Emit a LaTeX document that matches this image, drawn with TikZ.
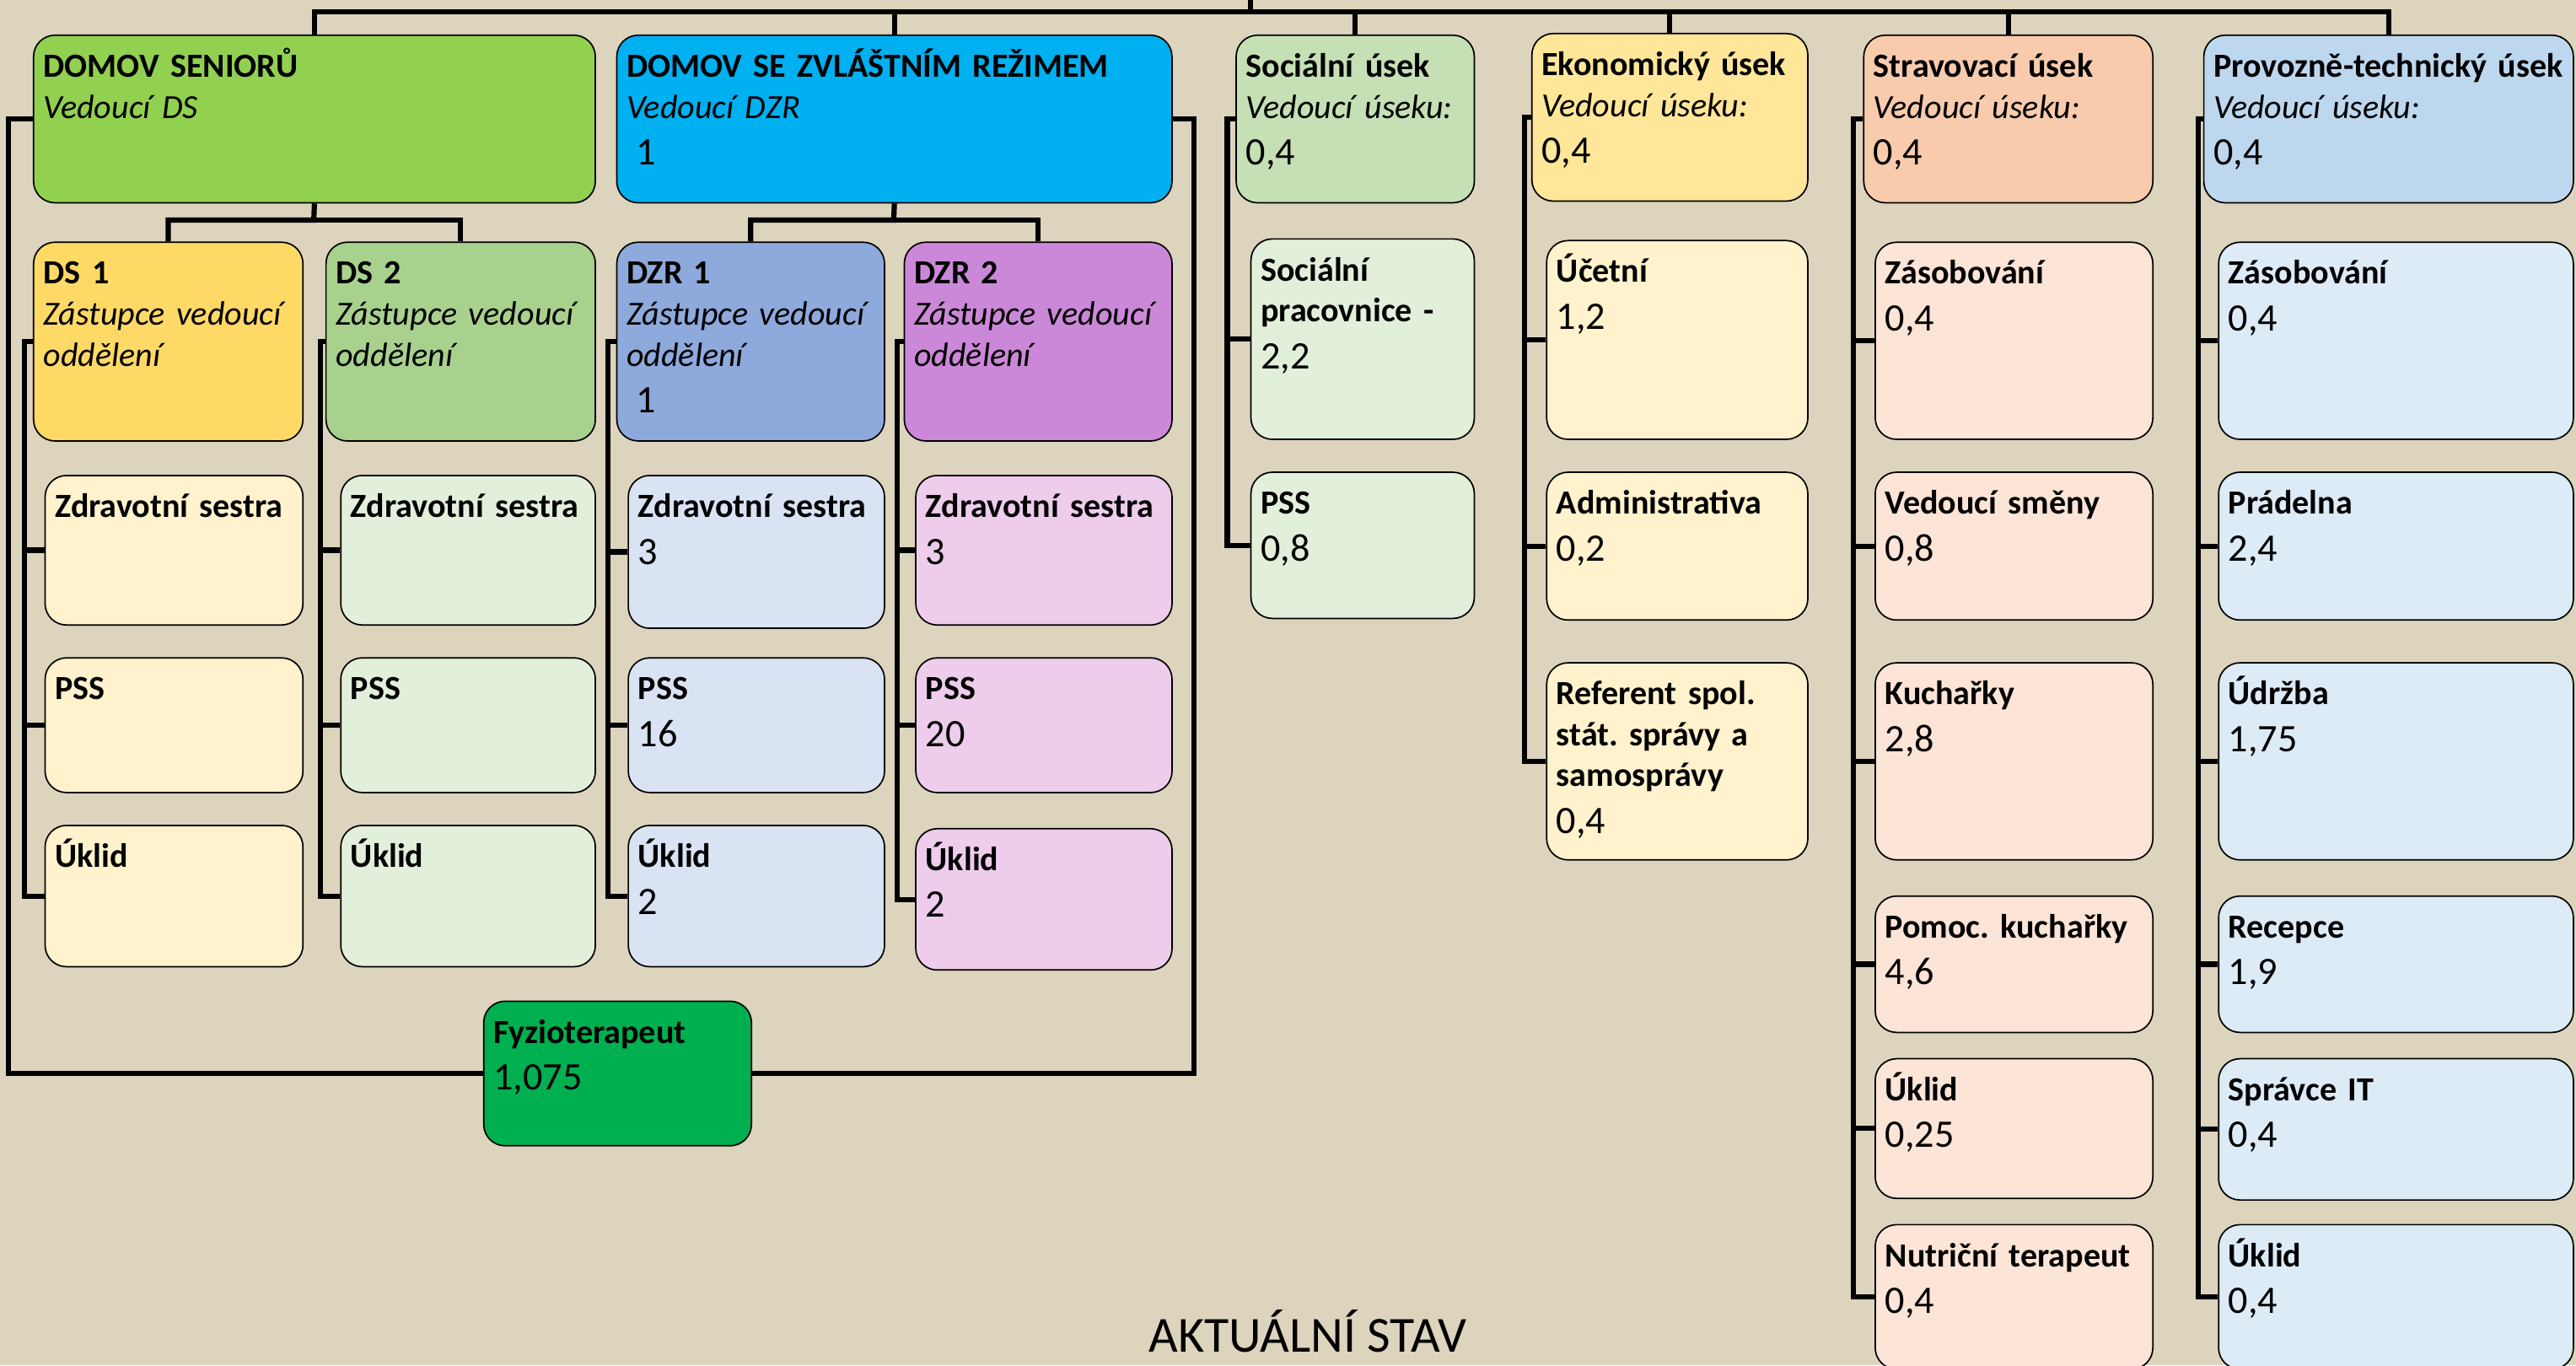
\documentclass[tikz,border=0pt]{standalone}
\usepackage{fontspec}
\setmainfont{Carlito}
\usepackage{tikz}
\definecolor{paper}{RGB}{221,212,190}
\definecolor{dsgreen}{RGB}{146,208,80}
\definecolor{dzrblue}{RGB}{0,176,240}
\definecolor{dsone}{RGB}{255,217,102}
\definecolor{dstwo}{RGB}{169,209,142}
\definecolor{dzrone}{RGB}{142,169,219}
\definecolor{dzrtwo}{RGB}{204,136,216}
\definecolor{dsonelight}{RGB}{255,242,204}
\definecolor{dstwolight}{RGB}{226,239,218}
\definecolor{dzronelight}{RGB}{218,227,243}
\definecolor{dzrtwolight}{RGB}{238,204,236}
\definecolor{fyzgreen}{RGB}{0,176,80}
\definecolor{socgreen}{RGB}{197,224,180}
\definecolor{soclight}{RGB}{226,239,218}
\definecolor{ekoyellow}{RGB}{255,230,153}
\definecolor{ekolight}{RGB}{255,242,204}
\definecolor{stravorange}{RGB}{248,203,173}
\definecolor{stravlight}{RGB}{252,228,214}
\definecolor{ptblue}{RGB}{189,215,238}
\definecolor{ptlight}{RGB}{221,235,247}
\tikzstyle{unit}=[draw=black,line width=0.5pt,rounded corners=0.26cm,anchor=north west,inner xsep=0.12cm,inner ysep=0.1cm,text height=0.41cm,align=left,font=\fontsize{11.7pt}{14.2pt}\selectfont]
\tikzstyle{link}=[draw=black,line width=1.8pt]
\tikzset{bw/.style={text width=#1-0.24cm},bh/.style={text depth=#1-0.61cm}}
\newcommand{\uvazek}{\fontsize{13.5pt}{14.2pt}\selectfont}

\begin{document}
\begin{tikzpicture}[x=0.02cm,y=-0.02cm]
\useasboundingbox (0,0) rectangle (1568,831);
\clip (0,0) rectangle (1568,831);
\fill[paper] (0,0) rectangle (1568,831);

% homes
\node[unit,fill=dsgreen,bw=6.84cm,bh=2.04cm] (ds) at (20,21) {{\bfseries DOMOV~SENIORŮ}\\ \textit{Vedoucí~DS}};
\node[unit,fill=dzrblue,bw=6.76cm,bh=2.04cm] (dzr) at (375,21) {{\bfseries DOMOV~SE~ZVLÁŠTNÍM~REŽIMEM}\\ \textit{Vedoucí~DZR}\\[2pt]{\uvazek\hspace*{0.25em}1}};

\node[unit,fill=dsone,bw=3.28cm,bh=2.42cm] (ds1) at (20,147) {{\bfseries DS~1}\\ \textit{Zástupce~vedoucí}\\ \textit{oddělení}};
\node[unit,fill=dstwo,bw=3.28cm,bh=2.42cm] (ds2) at (198,147) {{\bfseries DS~2}\\ \textit{Zástupce~vedoucí}\\ \textit{oddělení}};
\node[unit,fill=dzrone,bw=3.26cm,bh=2.42cm] (dzr1) at (375,147) {{\bfseries DZR~1}\\ \textit{Zástupce~vedoucí}\\ \textit{oddělení}\\[2pt]{\uvazek\hspace*{0.25em}1}};
\node[unit,fill=dzrtwo,bw=3.26cm,bh=2.42cm] (dzr2) at (550,147) {{\bfseries DZR~2}\\ \textit{Zástupce~vedoucí}\\ \textit{oddělení}};

\node[unit,fill=dsonelight,bw=3.14cm,bh=1.82cm] (ds1z) at (27,289) {\bfseries Zdravotní~sestra};
\node[unit,fill=dsonelight,bw=3.14cm,bh=1.64cm] (ds1p) at (27,400) {\bfseries PSS};
\node[unit,fill=dsonelight,bw=3.14cm,bh=1.72cm] (ds1u) at (27,502) {\bfseries Úklid};

\node[unit,fill=dstwolight,bw=3.10cm,bh=1.82cm] (ds2z) at (207,289) {\bfseries Zdravotní~sestra};
\node[unit,fill=dstwolight,bw=3.10cm,bh=1.64cm] (ds2p) at (207,400) {\bfseries PSS};
\node[unit,fill=dstwolight,bw=3.10cm,bh=1.72cm] (ds2u) at (207,502) {\bfseries Úklid};

\node[unit,fill=dzronelight,bw=3.12cm,bh=1.86cm] (dzr1z) at (382,289) {{\bfseries Zdravotní~sestra}\\[2pt]{\uvazek 3}};
\node[unit,fill=dzronelight,bw=3.12cm,bh=1.64cm] (dzr1p) at (382,400) {{\bfseries PSS}\\[2pt]{\uvazek 16}};
\node[unit,fill=dzronelight,bw=3.12cm,bh=1.72cm] (dzr1u) at (382,502) {{\bfseries Úklid}\\[2pt]{\uvazek 2}};

\node[unit,fill=dzrtwolight,bw=3.12cm,bh=1.82cm] (dzr2z) at (557,289) {{\bfseries Zdravotní~sestra}\\[2pt]{\uvazek 3}};
\node[unit,fill=dzrtwolight,bw=3.12cm,bh=1.64cm] (dzr2p) at (557,400) {{\bfseries PSS}\\[2pt]{\uvazek 20}};
\node[unit,fill=dzrtwolight,bw=3.12cm,bh=1.72cm] (dzr2u) at (557,504) {{\bfseries Úklid}\\[2pt]{\uvazek 2}};

\node[unit,fill=fyzgreen,bw=3.26cm,bh=1.76cm] (fyzio) at (294,609) {{\bfseries Fyzioterapeut}\\[2pt]{\uvazek 1,075}};

% sections
\node[unit,fill=socgreen,bw=2.90cm,bh=2.04cm] (soc) at (752,21) {{\bfseries Sociální~úsek}\\ \textit{Vedoucí~úseku:}\\[2pt]{\uvazek 0,4}};
\node[unit,fill=soclight,bw=2.72cm,bh=2.44cm] (soc1) at (761,145) {{\bfseries Sociální}\\ {\bfseries pracovnice~-}\\[2pt]{\uvazek 2,2}};
\node[unit,fill=soclight,bw=2.72cm,bh=1.78cm] (soc2) at (761,287) {{\bfseries PSS}\\[2pt]{\uvazek 0,8}};

\node[unit,fill=ekoyellow,bw=3.36cm,bh=2.04cm] (eko) at (932,20) {{\bfseries Ekonomický~úsek}\\ \textit{Vedoucí~úseku:}\\[2pt]{\uvazek 0,4}};
\node[unit,fill=ekolight,bw=3.18cm,bh=2.42cm] (eko1) at (941,146) {{\bfseries Účetní}\\[2pt]{\uvazek 1,2}};
\node[unit,fill=ekolight,bw=3.18cm,bh=1.80cm] (eko2) at (941,287) {{\bfseries Administrativa}\\[2pt]{\uvazek 0,2}};
\node[unit,fill=ekolight,bw=3.18cm,bh=2.40cm] (eko3) at (941,403) {{\bfseries Referent~spol.}\\ {\bfseries stát.~správy~a}\\ {\bfseries samosprávy}\\[2pt]{\uvazek 0,4}};

\node[unit,fill=stravorange,bw=3.52cm,bh=2.04cm] (strav) at (1134,21) {{\bfseries Stravovací~úsek}\\ \textit{Vedoucí~úseku:}\\[2pt]{\uvazek 0,4}};
\node[unit,fill=stravlight,bw=3.38cm,bh=2.40cm] (strav1) at (1141,147) {{\bfseries Zásobování}\\[2pt]{\uvazek 0,4}};
\node[unit,fill=stravlight,bw=3.38cm,bh=1.80cm] (strav2) at (1141,287) {{\bfseries Vedoucí~směny}\\[2pt]{\uvazek 0,8}};
\node[unit,fill=stravlight,bw=3.38cm,bh=2.40cm] (strav3) at (1141,403) {{\bfseries Kuchařky}\\[2pt]{\uvazek 2,8}};
\node[unit,fill=stravlight,bw=3.38cm,bh=1.66cm] (strav4) at (1141,545) {{\bfseries Pomoc.~kuchařky}\\[2pt]{\uvazek 4,6}};
\node[unit,fill=stravlight,bw=3.38cm,bh=1.70cm] (strav5) at (1141,644) {{\bfseries Úklid}\\[2pt]{\uvazek 0,25}};
\node[unit,fill=stravlight,bw=3.38cm,bh=1.76cm] (strav6) at (1141,745) {{\bfseries Nutriční~terapeut}\\[2pt]{\uvazek 0,4}};

\node[unit,fill=ptblue,bw=4.50cm,bh=2.04cm] (pt) at (1341,21) {{\bfseries \mbox{Provozně-technický úsek}}\\ \textit{Vedoucí~úseku:}\\[2pt]{\uvazek 0,4}};
\node[unit,fill=ptlight,bw=4.32cm,bh=2.40cm] (pt1) at (1350,147) {{\bfseries Zásobování}\\[2pt]{\uvazek 0,4}};
\node[unit,fill=ptlight,bw=4.32cm,bh=1.80cm] (pt2) at (1350,287) {{\bfseries Prádelna}\\[2pt]{\uvazek 2,4}};
\node[unit,fill=ptlight,bw=4.32cm,bh=2.40cm] (pt3) at (1350,403) {{\bfseries Údržba}\\[2pt]{\uvazek 1,75}};
\node[unit,fill=ptlight,bw=4.32cm,bh=1.66cm] (pt4) at (1350,545) {{\bfseries Recepce}\\[2pt]{\uvazek 1,9}};
\node[unit,fill=ptlight,bw=4.32cm,bh=1.72cm] (pt5) at (1350,644) {{\bfseries Správce~IT}\\[2pt]{\uvazek 0,4}};
\node[unit,fill=ptlight,bw=4.32cm,bh=1.76cm] (pt6) at (1350,745) {{\bfseries Úklid}\\[2pt]{\uvazek 0,4}};

\node[anchor=base,font=\fontsize{17.5pt}{20pt}\selectfont] (stav) at (796,823) {AKTUÁLNÍ STAV};

\coordinate (root) at (761,0);
\coordinate (bus) at (761,7);
\coordinate (dsfork) at (191,134);
\coordinate (dzrfork) at (544,134);

\draw[link] (root) -- (bus);
\draw[link] (ds.north) |- (bus);
\draw[link] (dzr.north) |- (bus);
\draw[link] (soc.north) |- (bus);
\draw[link] (eko.north) |- (bus);
\draw[link] (strav.north) |- (bus);
\draw[link] (pt.north) |- (bus);

\draw[link] (ds.south) -- (dsfork) -| (ds1.north);
\draw[link] (dsfork) -| (ds2.north);
\draw[link] (dzr.south) -- (dzrfork) -| (dzr1.north);
\draw[link] (dzrfork) -| (dzr2.north);

\draw[link] (ds.west) -- ++(-15,0) |- (fyzio.west);
\draw[link] (dzr.east) -- ++(13,0) |- (fyzio.east);

\draw[link] (ds1.west) -- ++(-5,0) |- (ds1u.west)
  (ds1.west) ++(-5,0) |- (ds1z.west)
  (ds1.west) ++(-5,0) |- (ds1p.west);
\draw[link] (ds2.west) -- ++(-3,0) |- (ds2u.west)
  (ds2.west) ++(-3,0) |- (ds2z.west)
  (ds2.west) ++(-3,0) |- (ds2p.west);
\draw[link] (dzr1.west) -- ++(-5,0) |- (dzr1u.west)
  (dzr1.west) ++(-5,0) |- (dzr1z.west)
  (dzr1.west) ++(-5,0) |- (dzr1p.west);
\draw[link] (dzr2.west) -- ++(-4,0) |- (dzr2u.west)
  (dzr2.west) ++(-4,0) |- (dzr2z.west)
  (dzr2.west) ++(-4,0) |- (dzr2p.west);

\draw[link] (soc.west) -- ++(-5,0) |- (soc2.west)
  (soc.west) ++(-5,0) |- (soc1.west);
\draw[link] (eko.west) -- ++(-4,0) |- (eko3.west)
  (eko.west) ++(-4,0) |- (eko1.west)
  (eko.west) ++(-4,0) |- (eko2.west);
\draw[link] (strav.west) -- ++(-6,0) |- (strav6.west)
  (strav.west) ++(-6,0) |- (strav1.west)
  (strav.west) ++(-6,0) |- (strav2.west)
  (strav.west) ++(-6,0) |- (strav3.west)
  (strav.west) ++(-6,0) |- (strav4.west)
  (strav.west) ++(-6,0) |- (strav5.west);
\draw[link] (pt.west) -- ++(-3,0) |- (pt6.west)
  (pt.west) ++(-3,0) |- (pt1.west)
  (pt.west) ++(-3,0) |- (pt2.west)
  (pt.west) ++(-3,0) |- (pt3.west)
  (pt.west) ++(-3,0) |- (pt4.west)
  (pt.west) ++(-3,0) |- (pt5.west);
\end{tikzpicture}
\end{document}
